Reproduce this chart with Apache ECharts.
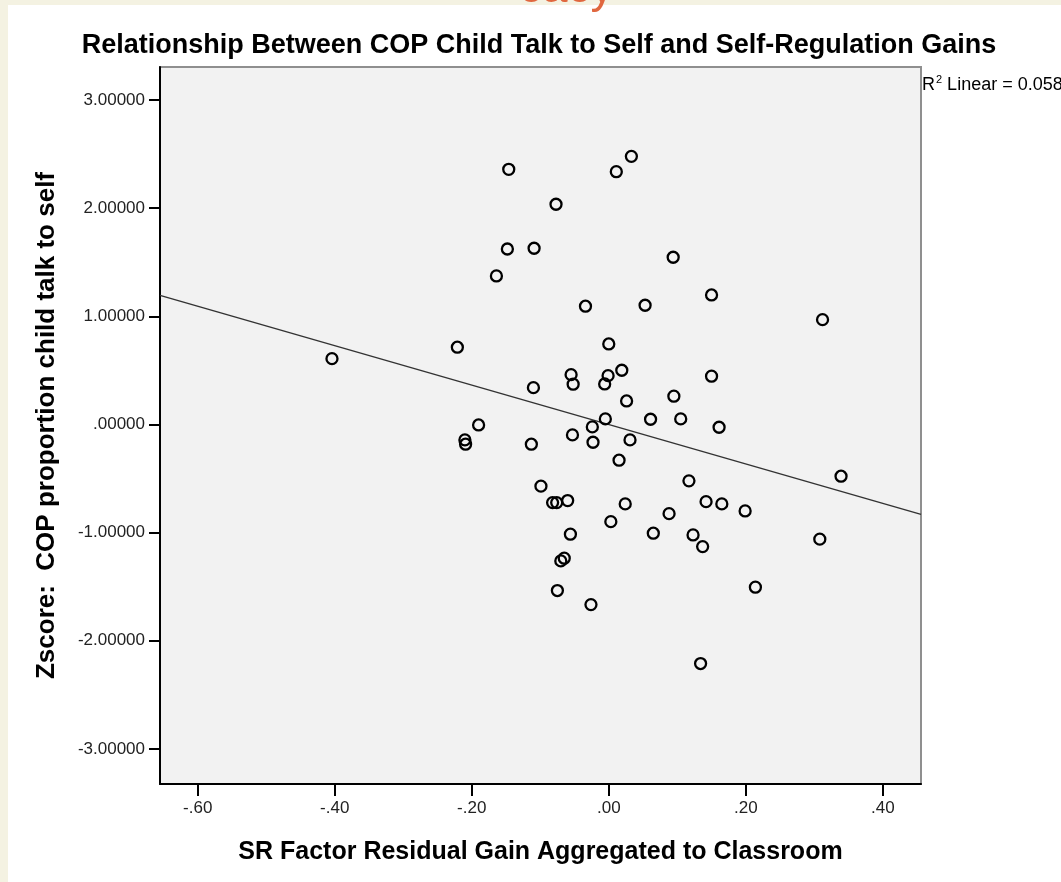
<!DOCTYPE html>
<html>
<head>
<meta charset="utf-8">
<script src="https://cdn.jsdelivr.net/npm/echarts@6/dist/echarts.min.js"></script>
<style>
  html, body { margin: 0; padding: 0; background: #f4f2e2; }
  #chart { width: 1061px; height: 882px; }
</style>
</head>
<body>
<div id="chart"></div>
<script>
// ---- data ----
const xValues = [
  -0.146, 0.011, 0.033, -0.077, -0.148, -0.109, 0.094, -0.164, -0.034, 0.053,
  0.000, -0.221, -0.404, -0.055, -0.052, -0.001, -0.006, 0.019, -0.110, 0.095,
  0.026, -0.005, 0.061, -0.024, -0.190, -0.053, -0.210, -0.209, -0.113, -0.023,
  0.031, 0.105, 0.150, 0.161, 0.015, 0.117, -0.099, -0.082, -0.076, -0.060,
  0.024, 0.142, 0.165, 0.199, 0.088, 0.003, -0.056, 0.065, 0.123, 0.137,
  -0.070, -0.065, -0.075, -0.026, 0.214, 0.134, 0.150, 0.312, 0.339, 0.308
];
const yValues = [
  2.359, 2.337, 2.479, 2.036, 1.622, 1.629, 1.546, 1.373, 1.093, 1.102,
  0.744, 0.714, 0.608, 0.460, 0.372, 0.451, 0.374, 0.501, 0.340, 0.261,
  0.217, 0.051, 0.048, -0.023, -0.005, -0.097, -0.143, -0.183, -0.183, -0.165,
  -0.143, 0.051, 0.446, -0.026, -0.331, -0.522, -0.571, -0.723, -0.723, -0.704,
  -0.735, -0.714, -0.735, -0.800, -0.825, -0.899, -1.015, -1.006, -1.022, -1.130,
  -1.262, -1.237, -1.536, -1.666, -1.505, -2.211, 1.197, 0.969, -0.479, -1.061
];
const fitX = [-0.655, 0.4557];
const fitY = [1.193, -0.832];
const xTicks = [-0.6, -0.4, -0.2, 0, 0.2, 0.4];
const yTicks = [-3, -2, -1, 0, 1, 2, 3];
const titleText = 'Relationship Between COP Child Talk to Self and Self-Regulation Gains';
const xName = 'SR Factor Residual Gain Aggregated to Classroom';
const yName = 'Zscore:  COP proportion child talk to self';
const r2Label = 'R';
const r2Sup = '2';
const r2Rest = ' Linear = 0.058';

// ---- build ----
const FONT = 'Liberation Sans, Arial, sans-serif';
function stripZero(s) { return s.replace(/^(-?)0\./, '$1.'); }
const fmtX = v => stripZero(Number(v).toFixed(2));
const fmtY = v => stripZero(Number(v).toFixed(5));

const points = xValues.map((x, i) => [x, yValues[i]]);
const fitLine = fitX.map((x, i) => [x, fitY[i]]);

const chart = echarts.init(document.getElementById('chart'), null, { renderer: 'canvas' });
chart.setOption({
  animation: false,
  backgroundColor: '#f4f2e2',
  textStyle: { fontFamily: FONT },
  graphic: [
    { type: 'rect', z: -100, shape: { x: 8, y: 5, width: 1061, height: 882 }, style: { fill: '#ffffff' }, silent: true },
    { type: 'text', x: 519, y: -34, style: { text: 'cacy', fontSize: 46, fontFamily: FONT, fill: '#e0673f', textAlign: 'left', textVerticalAlign: 'top' }, silent: true },
    { type: 'text', x: 539, y: 46, style: { text: titleText, fontSize: 27, fontWeight: 'bold', fontFamily: FONT, fill: '#000', textAlign: 'center', textVerticalAlign: 'middle' }, silent: true },
    { type: 'text', x: 922, y: 85, style: {
        text: '{a|' + r2Label + '}{s|' + r2Sup + '}{a|' + r2Rest + '}',
        textAlign: 'left', textVerticalAlign: 'middle',
        rich: {
          a: { fontSize: 18, fontFamily: FONT, fill: '#000', color: '#000' },
          s: { fontSize: 11, fontFamily: FONT, fill: '#000', color: '#000', padding: [0, 0, 10, 1] }
        }
      }, silent: true }
  ],
  grid: {
    left: 160, right: 140, top: 67, bottom: 98,
    show: true, backgroundColor: '#f2f2f2', borderColor: '#8f8f8f', borderWidth: 2,
    containLabel: false
  },
  xAxis: {
    type: 'value', min: -0.655, max: 0.4557,
    axisLine: { show: true, onZero: false, lineStyle: { color: '#000', width: 2 } },
    axisTick: { show: true, customValues: xTicks, length: 12, lineStyle: { color: '#000', width: 2 } },
    axisLabel: { customValues: xTicks, formatter: fmtX, margin: 16, fontSize: 17, color: '#222', fontFamily: FONT },
    splitLine: { show: false },
    name: xName, nameLocation: 'middle', nameGap: 56,
    nameTextStyle: { fontSize: 25, fontWeight: 'bold', color: '#000', fontFamily: FONT }
  },
  yAxis: {
    type: 'value', min: -3.325, max: 3.305,
    axisLine: { show: true, onZero: false, lineStyle: { color: '#000', width: 2 } },
    axisTick: { show: true, customValues: yTicks, length: 11, lineStyle: { color: '#000', width: 2 } },
    axisLabel: { customValues: yTicks, formatter: fmtY, margin: 15, fontSize: 17, color: '#222', fontFamily: FONT },
    splitLine: { show: false },
    name: yName, nameLocation: 'middle', nameGap: 100, nameRotate: 90,
    nameTextStyle: { fontSize: 26, fontWeight: 'bold', color: '#000', fontFamily: FONT }
  },
  series: [
    {
      type: 'line', data: fitLine, symbol: 'none', silent: true,
      lineStyle: { color: '#333', width: 1.4 }, z: 2
    },
    {
      type: 'scatter', data: points, symbol: 'circle', symbolSize: 11, silent: true,
      itemStyle: { color: 'rgba(0,0,0,0)', borderColor: '#000', borderWidth: 2.3, opacity: 1 }, z: 3
    }
  ]
});
</script>
</body>
</html>
